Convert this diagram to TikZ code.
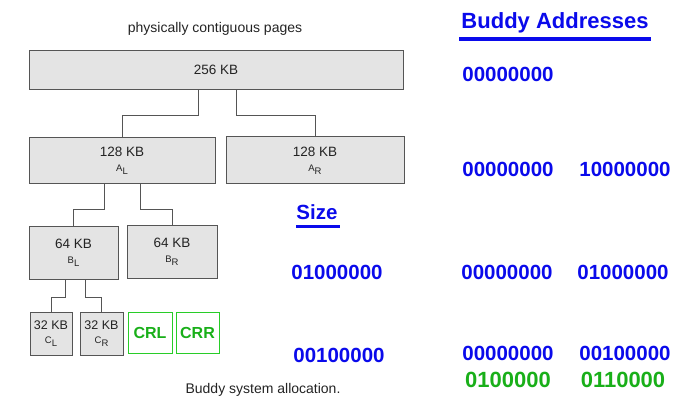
\documentclass[tikz,border=0pt]{standalone}
\usepackage{fontspec}
\setmainfont{Liberation Sans}
\definecolor{bblue}{RGB}{10,10,235}
\definecolor{ggreen}{RGB}{25,175,25}
\definecolor{gbox}{RGB}{40,205,40}
\definecolor{boxfill}{RGB}{228,228,228}
\definecolor{boxline}{RGB}{85,85,85}
\definecolor{txtgray}{RGB}{35,35,35}
\newcommand{\mysub}[2]{{\fontsize{9.5}{9.5}\selectfont #1\raisebox{-3pt}{#2}}}
\tikzset{
  membox/.style={draw=boxline, fill=boxfill, line width=1pt, inner sep=0pt, align=center,
    text=txtgray, font=\fontsize{13.5}{15}\selectfont},
  smallbox/.style={membox, font=\fontsize{12.5}{14}\selectfont},
  greenbox/.style={draw=gbox, line width=1pt, inner sep=0pt, text=ggreen,
    font=\fontsize{16}{16}\selectfont\bfseries},
  link/.style={draw=boxline, line width=1pt},
  caption/.style={text=txtgray, font=\fontsize{14}{14}\selectfont, inner sep=0pt},
  bluetxt/.style={text=bblue, font=\fontsize{20.5}{20.5}\selectfont\bfseries, inner sep=0pt},
  greentxt/.style={text=ggreen, font=\fontsize{22}{22}\selectfont\bfseries, inner sep=0pt},
  uline/.style={draw=bblue, line width=3.5pt}
}
\begin{document}
\begin{tikzpicture}[x=1pt,y=-1pt]
\useasboundingbox (0,0) rectangle (692,411);
% captions
\node[caption] (cap1) at (215,29) {physically contiguous pages};
\node[caption] (cap2) at (263,390) {Buddy system allocation.};
% boxes
\node[membox, minimum width=374pt, minimum height=39pt] (top) at (216,70) {256 KB};
\node[membox, minimum width=186pt, minimum height=46pt] (AL) at (122,161) {128 KB\\\mysub{A}{L}};
\node[membox, minimum width=178pt, minimum height=47pt] (AR) at (315,160.5) {128 KB\\\mysub{A}{R}};
\node[membox, minimum width=89pt, minimum height=52pt] (BL) at (73.5,253) {64 KB\\\mysub{B}{L}};
\node[membox, minimum width=90pt, minimum height=52pt] (BR) at (172,252) {64 KB\\\mysub{B}{R}};
\node[smallbox, minimum width=42pt, minimum height=43pt] (CL) at (51,333.5) {32 KB\\\mysub{C}{L}};
\node[smallbox, minimum width=43pt, minimum height=43pt] (CR) at (101.5,333.5) {32 KB\\\mysub{C}{R}};
\node[greenbox, minimum width=44pt, minimum height=41pt] (CRL) at (150,332.5) {CRL};
\node[greenbox, minimum width=43pt, minimum height=41pt] (CRR) at (197.5,332.5) {CRR};
% connectors
\draw[link] ([xshift=-18pt]top.south) -- ++(0,-25.5pt) -| (AL.north);
\draw[link] ([xshift=20pt]top.south) -- ++(0,-25.5pt) -| (AR.north);
\draw[link] ([xshift=-18pt]AL.south) -- ++(0,-25pt) -| (BL.north);
\draw[link] ([xshift=18pt]AL.south) -- ++(0,-25pt) -| (BR.north);
\draw[link] ([xshift=-8.5pt]BL.south) -- ++(0,-18pt) -| (CL.north);
\draw[link] ([xshift=11.5pt]BL.south) -- ++(0,-18pt) -| (CR.north);
% headings
\node[bluetxt, font=\fontsize{22}{22}\selectfont\bfseries] (bud) at (555,23) {Buddy Addresses};
\draw[uline] (459,39) -- (651,39);
\node[bluetxt] (size) at (317,212) {Size};
\draw[uline, line width=3pt] (296,227) -- (340,227);
% size column
\node[bluetxt] (s1) at (337,272) {01000000};
\node[bluetxt] (s2) at (339,355) {00100000};
% addresses
\node[bluetxt] (a0) at (508,74) {00000000};
\node[bluetxt] (a1) at (508,169) {00000000};
\node[bluetxt] (a2) at (625,169) {10000000};
\node[bluetxt] (a3) at (507,272) {00000000};
\node[bluetxt] (a4) at (623,272) {01000000};
\node[bluetxt] (a5) at (508,353) {00000000};
\node[bluetxt] (a6) at (625,353) {00100000};
\node[greentxt] (g1) at (508,380) {0100000};
\node[greentxt] (g2) at (623,380) {0110000};
\end{tikzpicture}
\end{document}
